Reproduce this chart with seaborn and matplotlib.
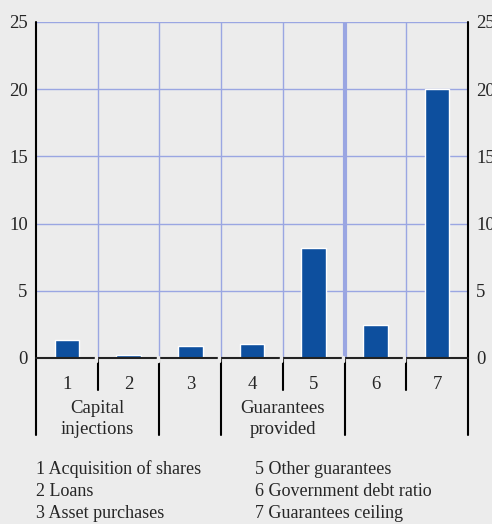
import matplotlib
matplotlib.use("Agg")
import matplotlib.pyplot as plt
import matplotlib.transforms as mtransforms
import seaborn as sns
import pandas as pd

# Data
categories = ["1", "2", "3", "4", "5", "6", "7"]
values = [1.35, 0.25, 0.88, 1.05, 8.15, 2.45, 20.0]
y_ticks = [0, 5, 10, 15, 20, 25]
groups = [("Capital\ninjections", 0, 1), ("Guarantees\nprovided", 3, 4)]
legend_left = ["1 Acquisition of shares", "2 Loans", "3 Asset purchases"]
legend_right = ["5 Other guarantees", "6 Government debt ratio", "7 Guarantees ceiling"]

BG = "#ececec"
GRID = "#9aa6e2"
BAR = "#0d4f9e"

sns.set_style("white")
plt.rcParams["font.family"] = ["Liberation Serif", "DejaVu Serif"]

df = pd.DataFrame({"cat": categories, "val": values})

fig = plt.figure(figsize=(4.92, 5.24), dpi=100, facecolor=BG)
ax = fig.add_axes([36 / 492, 1 - 358 / 524, 432 / 492, 336 / 524])
ax.set_facecolor(BG)

sns.barplot(data=df, x="cat", y="val", color=BAR, width=0.4, saturation=1,
            edgecolor="white", linewidth=1.0, ax=ax, zorder=3)

ax.set_xlim(-0.5, 6.5)
ax.set_ylim(0, 25)
ax.set_xlabel("")
ax.set_ylabel("")

# Grid
for y in y_ticks[1:]:
    ax.axhline(y, color=GRID, lw=1.0, zorder=1)
for b in [0.5, 1.5, 2.5, 3.5, 5.5]:
    ax.axvline(b, color=GRID, lw=1.0, zorder=1)
ax.axvline(4.5, color=GRID, lw=3.0, zorder=1)

for s in ["top", "bottom", "left", "right"]:
    ax.spines[s].set_visible(False)

ax.set_yticks(y_ticks)
ax.tick_params(axis="y", which="both", length=0, labelsize=13.5, pad=6,
               labelleft=True, labelright=True)
ax.set_xticks(range(len(categories)))
ax.set_xticklabels(categories)
ax.tick_params(axis="x", length=0, labelsize=13.5, pad=13)

trans = mtransforms.blended_transform_factory(ax.transData, ax.transAxes)
bottom_full = -77 / 336
bottom_short = -32 / 336

# Outer vertical axis lines, extended below the baseline
ax.plot([-0.5, -0.5], [1, bottom_full], transform=trans, color="black", lw=1.5, clip_on=False, zorder=5)
ax.plot([6.5, 6.5], [1, bottom_full], transform=trans, color="black", lw=1.5, clip_on=False, zorder=5)

# Baseline at zero
ax.plot([-0.5, 6.5], [0, 0], transform=trans, color="#222222", lw=1.5, clip_on=False, zorder=5)

# Category separators below the axis
full_seps = [1.5, 2.5, 4.5]
short_seps = [0.5, 3.5, 5.5]
for b in full_seps:
    ax.plot([b, b], [0, bottom_full], transform=trans, color="black", lw=1.5, clip_on=False, zorder=6)
    ax.plot([b - 0.03, b - 0.03], [0.003, -0.01], transform=trans, color=BG, lw=2.5, clip_on=False, zorder=7)
for b in short_seps:
    ax.plot([b, b], [0, bottom_short], transform=trans, color="black", lw=1.5, clip_on=False, zorder=6)
    ax.plot([b - 0.03, b - 0.03], [0.003, -0.01], transform=trans, color=BG, lw=2.5, clip_on=False, zorder=7)

# Group labels
for label, a, b in groups:
    ax.text((a + b) / 2, -0.182, label, transform=trans, ha="center", va="center",
            fontsize=13.5, linespacing=1.3)

# Legend text below
for i, t in enumerate(legend_left):
    fig.text(36 / 492, 1 - (469 + i * 22) / 524, t, ha="left", va="center", fontsize=13)
for i, t in enumerate(legend_right):
    fig.text(255 / 492, 1 - (469 + i * 22) / 524, t, ha="left", va="center", fontsize=13)

fig.savefig("out.png", dpi=100, facecolor=BG)
